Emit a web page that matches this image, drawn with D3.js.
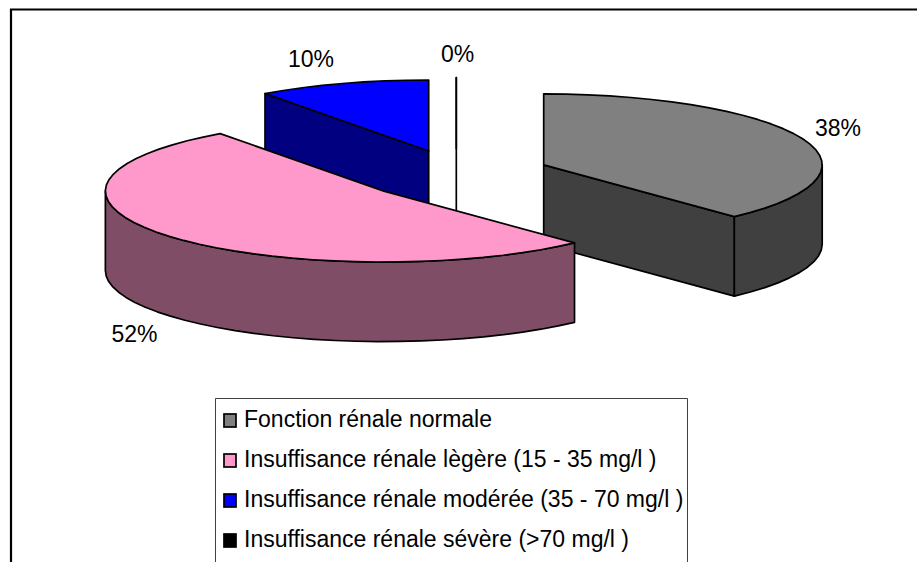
<!DOCTYPE html>
<html><head><meta charset="utf-8">
<style>html,body{margin:0;padding:0;background:#fff}svg{display:block}text{font-family:"Liberation Sans",Arial,sans-serif;fill:#000}</style>
<script src="https://cdn.jsdelivr.net/npm/d3@7"></script></head>
<body><svg id="c" width="917" height="562"></svg>
<script>
const categories = ["Fonction rénale normale","Insuffisance rénale lègère (15 - 35 mg/l )","Insuffisance rénale modérée (35 - 70 mg/l )","Insuffisance rénale sévère (>70 mg/l )"];
const values = [38,52,10,0];
const topColors = ["#808080","#FF99CC","#0000FF","#000000"];
const sideColors = ["#404040","#804D66","#000080","#000000"];
const drawOrder = [0,2,3,1];
const explodeFactor = [1,1,0.95,1];
const labelPos = [[838,136],[134.5,342],[311,67],[457.5,62]];

const W=917,H=562;
const svg=d3.select("#c");
const cx=456.3,cy=174.5,rx=278.5,ry=71,depth=79.5,explodeX=94,explodeY=26;
const toX=d3.scaleLinear().domain([-1,1]).range([-rx,rx]);
const toY=d3.scaleLinear().domain([-1,1]).range([-ry,ry]);
const line=d3.line();

const arcs=d3.pie().value(d=>d).sort(null)(values);

svg.append("path").attr("d",line([[11,H],[11,9.5],[W,9.5]])).attr("fill","none").attr("stroke","#000").attr("stroke-width",2.2);

function rim(a0,a1,ox,oy,dz){
  const n=Math.max(1,Math.round((a1-a0)/(Math.PI/40)));
  return d3.range(n+1).map(i=>{const a=a0+(a1-a0)*i/n;return [ox+toX(Math.sin(a)),oy-toY(Math.cos(a))+dz];});
}
drawOrder.forEach(i=>{
  const s=arcs[i],mid=(s.startAngle+s.endAngle)/2;
  const ox=cx+explodeFactor[i]*explodeX*Math.sin(mid),oy=cy-explodeFactor[i]*explodeY*Math.cos(mid);
  const g=svg.append("g").attr("stroke","#000").attr("stroke-width",1.7).attr("stroke-linejoin","round");
  const face=a=>{const p=rim(a,a,ox,oy,0)[0];
    g.append("path").attr("d",line([[ox,oy],p,[p[0],p[1]+depth],[ox,oy+depth]])+"Z").attr("fill",sideColors[i]);};
  if(Math.sin(s.startAngle)<0) face(s.startAngle);
  if(Math.sin(s.endAngle)>0) face(s.endAngle);
  const w0=Math.max(s.startAngle,Math.PI/2),w1=Math.min(s.endAngle,Math.PI*1.5);
  if(w1>w0){
    const up=rim(w0,w1,ox,oy,0),dn=rim(w0,w1,ox,oy,depth).reverse();
    g.append("path").attr("d",line(up.concat(dn))+"Z").attr("fill",sideColors[i]);
  }
  g.append("path").attr("d",line([[ox,oy]].concat(rim(s.startAngle,s.endAngle,ox,oy,0)))+"Z").attr("fill",topColors[i]);
});

svg.selectAll(".pct").data(values).join("text").attr("class","pct")
  .attr("x",(d,i)=>labelPos[i][0]).attr("y",(d,i)=>labelPos[i][1])
  .attr("text-anchor","middle").attr("font-size",23).text(d=>d+"%");

const lg=svg.append("g");
lg.append("path").attr("d",line([[215.5,H],[215.5,398.5],[687.5,398.5],[687.5,H]])).attr("fill","none").attr("stroke","#404040").attr("stroke-width",1);
const rowY=d3.scalePoint().domain(d3.range(categories.length)).range([420,540]);
categories.forEach((c,i)=>{
  lg.append("rect").attr("x",224).attr("y",rowY(i)-6).attr("width",12).attr("height",13)
    .attr("fill",topColors[i]).attr("stroke","#000").attr("stroke-width",1.7);
  lg.append("text").attr("x",244).attr("y",rowY(i)+7).attr("font-size",23).text(c);
});
</script></body></html>
